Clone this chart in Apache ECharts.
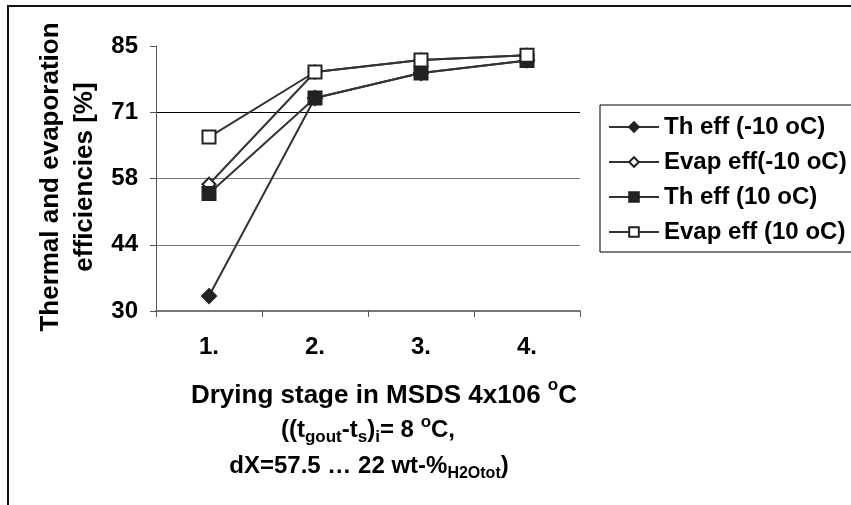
<!DOCTYPE html>
<html>
<head>
<meta charset="utf-8">
<script src="https://cdn.jsdelivr.net/npm/echarts@6/dist/echarts.min.js"></script>
<style>
  html, body { margin: 0; padding: 0; background: #fff; }
  #chart { width: 851px; height: 505px; }
</style>
</head>
<body>
<div id="chart"></div>
<script>
// Drying stages on the category axis
const stages = ['1.', '2.', '3.', '4.'];

// Efficiencies [%] per stage
const thEffMinus10 = [33.1, 74.2, 79.4, 82.0];
const evapEffMinus10 = [56.3, 79.6, 82.1, 83.1];
const thEff10 = [54.4, 74.2, 79.4, 82.0];
const evapEff10 = [66.1, 79.6, 82.1, 83.1];

// Value-axis tick positions (labels are shown rounded)
const yTicks = [30, 43.75, 57.5, 71.25, 85];

const seriesNames = ['Th eff (-10 oC)', 'Evap eff(-10 oC)', 'Th eff (10 oC)', 'Evap eff (10 oC)'];

const FONT = '"Liberation Sans", Arial, sans-serif';
const ink = '#222';

function lineSeries(name, data, symbol, size) {
  return {
    name: name,
    type: 'line',
    data: data,
    symbol: symbol,
    symbolSize: size,
    lineStyle: { color: '#333', width: 2 },
    itemStyle: { color: ink, borderColor: ink, borderWidth: 2 },
    emphasis: { disabled: true },
    animation: false
  };
}

const chart = echarts.init(document.getElementById('chart'), null, { renderer: 'canvas' });

function bold(size, extra) {
  return Object.assign({ fontFamily: FONT, fontWeight: 'bold', fontSize: size, fill: '#000', lineHeight: 32 }, extra || {});
}

chart.setOption({
  animation: false,
  backgroundColor: '#fff',
  grid: { left: 156, top: 46, width: 424, height: 265, containLabel: false },
  xAxis: {
    type: 'category',
    data: stages,
    boundaryGap: true,
    axisLine: { lineStyle: { color: '#777', width: 2 } },
    axisTick: { show: true, alignWithLabel: false, length: 6, lineStyle: { color: '#555', width: 1 } },
    axisLabel: { margin: 24, color: '#000', fontFamily: FONT, fontWeight: 'bold', fontSize: 24 },
    splitLine: { show: false }
  },
  yAxis: {
    type: 'value',
    min: 30,
    max: 85,
    axisLine: { show: true, lineStyle: { color: '#555', width: 1 } },
    axisTick: { show: true, inside: false, length: 6, customValues: yTicks, lineStyle: { color: '#555' } },
    axisLabel: {
      customValues: yTicks,
      margin: 18,
      color: '#000', fontFamily: FONT, fontWeight: 'bold', fontSize: 24,
      formatter: v => String(Math.round(v))
    },
    splitLine: {
      show: true,
      lineStyle: { color: ['#777', '#777', '#777', '#000', 'rgba(0,0,0,0)'], width: 1 }
    }
  },
  legend: {
    orient: 'vertical',
    left: 600,
    top: 105,
    data: seriesNames,
    itemWidth: 50,
    itemHeight: 12,
    itemGap: 11,
    padding: [10, 40, 8, 8],
    borderColor: '#000',
    borderWidth: 1,
    backgroundColor: '#fff',
    textStyle: { color: '#000', fontFamily: FONT, fontWeight: 'bold', fontSize: 24 },
    selectedMode: false
  },
  series: [
    lineSeries(seriesNames[0], thEffMinus10, 'diamond', 14),
    lineSeries(seriesNames[1], evapEffMinus10, 'emptyDiamond', 13),
    lineSeries(seriesNames[2], thEff10, 'rect', 13),
    lineSeries(seriesNames[3], evapEff10, 'emptyRect', 13)
  ],
  graphic: [
    // outer frame
    {
      type: 'rect', silent: true, z: 100,
      shape: { x: 8, y: 6, width: 1000, height: 700 },
      style: { fill: null, stroke: '#111', lineWidth: 2 }
    },
    // value-axis title (two lines, rotated)
    {
      type: 'text', silent: true,
      x: 68, y: 177, rotation: Math.PI / 2,
      style: {
        text: 'Thermal and evaporation\nefficiencies [%]',
        align: 'center', verticalAlign: 'middle',
        fontFamily: FONT, fontWeight: 'bold', fontSize: 26, lineHeight: 34, fill: '#000'
      }
    },
    // category-axis title, line 1
    {
      type: 'text', silent: true, x: 384, y: 393,
      style: {
        text: '{n|Drying stage in MSDS 4x106 }{sp|o}{n|C}',
        align: 'center', verticalAlign: 'middle',
        rich: {
          n: bold(26, { verticalAlign: 'bottom' }),
          sp: bold(17, { verticalAlign: 'top' })
        }
      }
    },
    // line 2
    {
      type: 'text', silent: true, x: 368, y: 430,
      style: {
        text: '{n|((t}{sb|gout}{n|-t}{sb|s}{n|)}{sb|i}{n|= 8 }{sp|o}{n|C,}',
        align: 'center', verticalAlign: 'middle',
        rich: {
          n: bold(24, { verticalAlign: 'middle' }),
          sb: bold(17, { verticalAlign: 'bottom' }),
          sp: bold(17, { verticalAlign: 'top' })
        }
      }
    },
    // line 3
    {
      type: 'text', silent: true, x: 369, y: 466,
      style: {
        text: '{n|dX=57.5 \u2026 22 wt-%}{sb|H2Otot}{n|)}',
        align: 'center', verticalAlign: 'middle',
        rich: {
          n: bold(24, { verticalAlign: 'middle' }),
          sb: bold(16, { verticalAlign: 'bottom' })
        }
      }
    }
  ]
});
</script>
</body>
</html>
